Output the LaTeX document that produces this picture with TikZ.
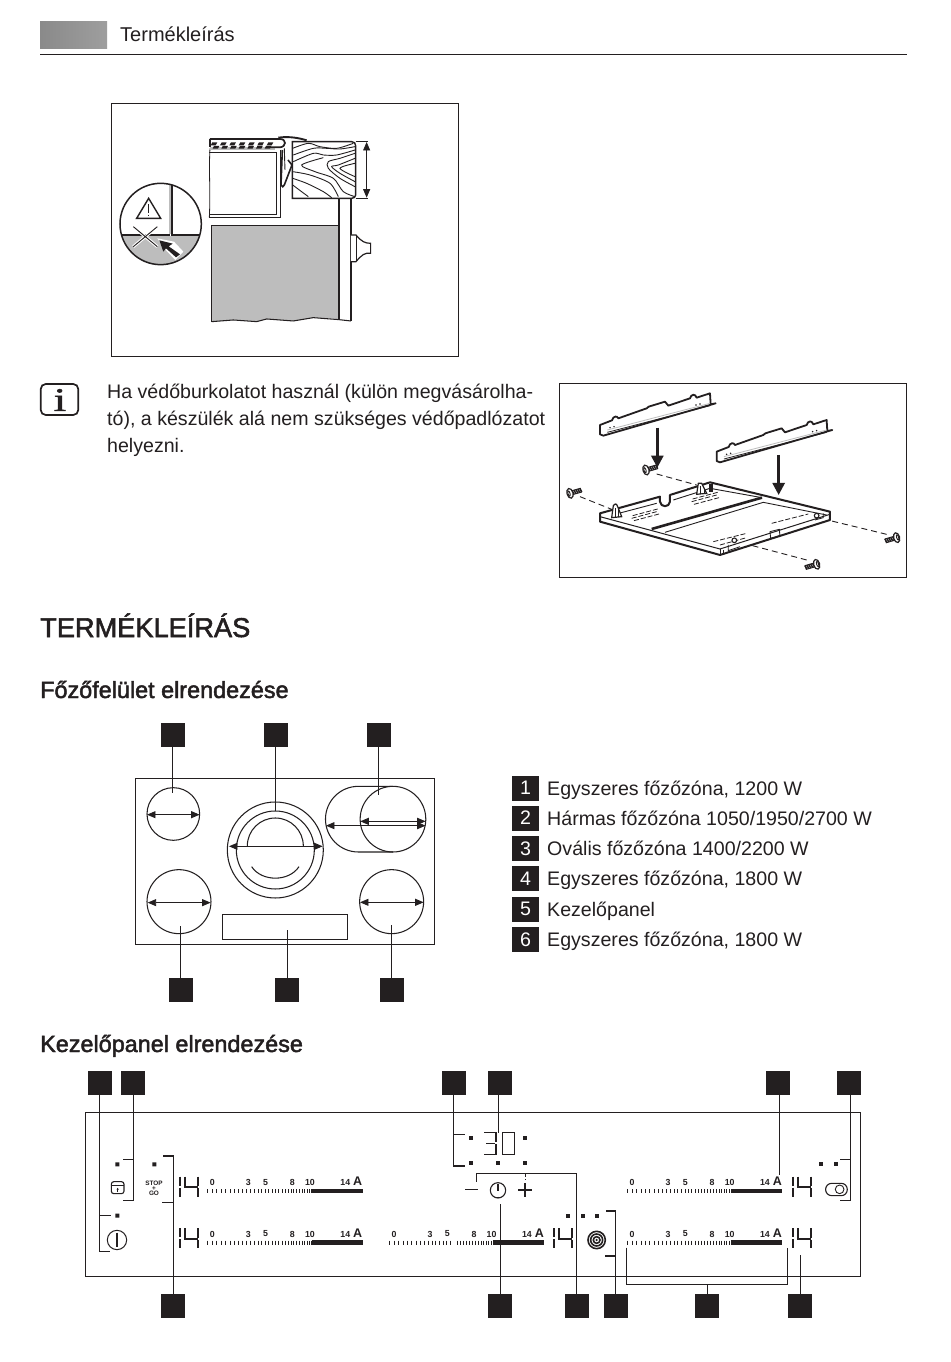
\documentclass[tikz,border=0pt]{standalone}
\usepackage{fontspec}
\setmainfont{Liberation Sans}
\newfontfamily\fakebold[FakeBold=2]{Liberation Sans}
\newfontfamily\fakeserif[FakeBold=1.5]{Liberation Serif}
\usetikzlibrary{arrows.meta,calc}
\definecolor{ink}{HTML}{231F20}
\definecolor{midgrey}{HTML}{BDBDBD}
\newcommand\fsz[1]{\fontsize{#1}{#1}\selectfont}
\tikzset{
  x=1pt,y=-1pt,
  zA/.style={shift={(100,95)},x=0.3333pt,y=-0.3333pt},
  zB/.style={shift={(550,375)},x=0.3333pt,y=-0.3333pt},
  zC/.style={shift={(80,1065)},x=0.3333pt,y=-0.3333pt},
  zD/.style={shift={(430,1065)},x=0.3333pt,y=-0.3333pt},
  zE/.style={shift={(125,720)},x=0.3333pt,y=-0.3333pt},
  ln/.style={draw=ink,line width=1.05pt},
  frameb/.style={draw=ink,line width=0.9pt},
  sq/.style={fill=ink,draw=none,minimum size=24pt,inner sep=0pt,outer sep=0pt},
  numsq/.style={fill=ink,text=white,minimum width=27pt,minimum height=25pt,inner sep=0pt,font=\fsz{19.6}},
  listtxt/.style={anchor=base west,inner sep=0pt,text=ink,font=\fsz{19.6}},
  para/.style={anchor=base west,inner sep=0pt,text=ink,font=\fsz{19.6}},
  lbl/.style={inner sep=0pt,text=ink,font=\fsz{8.8}\bfseries},
  segm/.style={draw=ink,line width=1.8pt},
  bigarr/.style={draw=ink,line width=0.9pt,{Triangle[length=8.5pt,width=7pt]}-{Triangle[length=8.5pt,width=7pt]}},
  dropa/.style={draw=ink,line width=2.6pt,-{Triangle[length=12pt,width=12pt]}},
  thk/.style={draw=ink,line width=1.8pt,line join=round},
}
\newcommand\ampbar[3]{%
  \foreach \i in {0,...,30}{\pgfmathsetmacro\tx{#2+312*(\i/30)*(1.35-0.35*\i/30)}\draw[ink,line width=0.8pt] (\tx,#3-6) -- (\tx,#3+6);}
  \fill[ink] (#2+312,#3-7) rectangle (#2+465,#3+7);
  \node[lbl] (z#1) at (#2+14,#3-26) {0};
  \node[lbl] (t#1) at (#2+122,#3-26) {3};
  \node[lbl] (f#1) at (#2+174,#3-26) {5};
  \node[lbl] (e#1) at (#2+254,#3-26) {8};
  \node[lbl] (n#1) at (#2+307,#3-26) {10};
  \node[lbl] (v#1) at (#2+413,#3-26) {14};
  \node[lbl,font=\fsz{12.5}\bfseries] (a#1) at (#2+450,#3-28) {A};
}
\newcommand\disponefour[2]{%
  \draw[segm] (#1,#2) -- (#1,#2+27) (#1,#2+33) -- (#1,#2+60);
  \draw[segm] (#1+14,#2) -- (#1+14,#2+31) -- (#1+53,#2+31);
  \draw[segm] (#1+53,#2) -- (#1+53,#2+28) (#1+53,#2+34) -- (#1+53,#2+60);
}
\newcommand\screwat[3]{%
  \begin{scope}[shift={(#1,#2)},rotate=#3]
    \draw[ink,line width=0.9pt,fill=white] (0,-6) rectangle (34,6);
    \foreach \k in {8,14,20,26,32}{\draw[ink,line width=1.5pt] (\k,-6) -- (\k+3,6);}
    \draw[ink,line width=1.2pt,fill=white] (0,0) ellipse [x radius=9,y radius=15];
    \draw[ink,line width=0.9pt] (-3,0) ellipse [x radius=3,y radius=8];
  \end{scope}}
\newcommand\brkt[2]{%
  \begin{scope}[shift={(#1,#2)}]
    \draw[thk,fill=white] (150,150) -- (186,136) .. controls (190,122) and (202,122) .. (205,130) -- (290,100) -- (296,95) -- (345,80) -- (355,92) -- (420,70) .. controls (424,56) and (436,56) .. (440,68) -- (480,55) -- (482,88) -- (497,85) -- (160,182) -- (150,178) -- cycle;
    \draw[ink,line width=0.8pt] (172,172) -- (480,92);
    \draw[midgrey,line width=0.8pt] (172,165) -- (480,85);
    \fill[ink] (180,158) circle (2.5) (192,155) circle (2.5) (438,90) circle (2.5) (450,87) circle (2.5);
  \end{scope}}
\newcommand\grid[5]{%
  \foreach \k in {0,...,#5}{\draw[ink,line width=0.8pt,dash pattern=on 5pt off 2pt] ($(#1,#2)+(\k*7,\k*6)$) -- ++(#3,#4);}}
\begin{document}
\begin{tikzpicture}
\useasboundingbox (0,0) rectangle (950,1362);
\fill[white] (0,0) rectangle (950,1362);
% header
\shade[left color=black!46,right color=black!38] (40,22) rectangle (107,49);
\draw[ink,line width=0.8pt] (40,54) -- (907,54);
\node[anchor=base west,inner sep=0pt,text=ink,font=\fsz{20}] (htitle) at (120,42) {Termékleírás};
% figure 1
\begin{scope}[zA]
  \draw[frameb] (35,25) rectangle (1076,785);
  % grey unit
  \fill[midgrey] (335,392) -- (717,392) -- (717,672) -- (640,668) -- (580,678) -- (500,672) -- (470,680) -- (400,675) -- (335,680) -- cycle;
  \draw[ln,line width=1.3pt] (335,680) -- (335,392) -- (717,392);
  \draw[ln] (335,680) -- (400,675) -- (470,680) -- (500,672) -- (580,678) -- (640,668) -- (717,674) -- (753,678);
  \draw[ln] (717,310) -- (717,674) (753,310) -- (753,678);
  % knob
  \draw[ln,line width=1.2pt,fill=white] (753,420) -- (768,420) .. controls (785,440) and (795,445) .. (812,445) -- (812,475) .. controls (795,472) and (785,480) .. (768,500) -- (753,500);
  \draw[ink,line width=0.8pt] (770,422) -- (770,498);
  % white unit
  \draw[ink,line width=0.9pt] (328,172) -- (530,172) -- (530,358) -- (328,358);
  \draw[ink,line width=0.8pt] (540,165) -- (540,367) -- (328,367);
  \draw[ink,line width=0.8pt] (330,160) .. controls (326,230) and (332,290) .. (328,367);
  % worktop
  \fill[midgrey] (330,157) rectangle (525,166);
  \draw[ink,line width=1.7pt] (330,132) -- (540,132) .. controls (560,132) and (560,155) .. (540,157) -- (510,157);
  \draw[ink,line width=2pt] (329,155) -- (329,133);
  \foreach \k in {0,...,6}{\fill[ink] (337+\k*28,142) -- (352+\k*28,142) -- (347+\k*28,151) -- (332+\k*28,151) -- cycle;}
  \foreach \k in {0,...,6}{\fill[ink] (342+\k*26,153) -- (358+\k*26,153) -- (354+\k*26,161) -- (338+\k*26,161) -- cycle;}
  \draw[ink,line width=1.9pt] (535,128) .. controls (570,123) and (600,130) .. (620,136);
  % clip
  \draw[ink,line width=1.6pt] (547,165) -- (543,270) .. controls (545,278) and (552,276) .. (553,270) -- (576,210) -- (564,195);
  \draw[ink,line width=0.9pt] (553,160) -- (555,225);
  % wood
  \draw[ink,line width=1.4pt] (577,140) -- (755,140) .. controls (763,140) and (767,145) .. (767,152) -- (767,300) .. controls (767,306) and (762,310) .. (755,310) -- (577,310) -- cycle;
  \draw[ink,line width=0.8pt] (767,139) -- (805,139) (767,310) -- (805,310);
  \begin{scope}[ink,line width=0.9pt]
    \draw plot[smooth] coordinates {(578,160) (625,145) (660,155) (710,160) (760,145)};
    \draw plot[smooth] coordinates {(580,180) (640,160) (680,160) (720,162) (765,155)};
    \draw plot[smooth] coordinates {(580,200) (640,175) (670,180) (710,180) (765,165)};
    \draw plot[smooth] coordinates {(765,175) (720,190) (685,200) (685,220) (720,250) (765,275)};
    \draw plot[smooth] coordinates {(765,190) (715,210) (695,215) (720,235) (765,260)};
    \draw plot[smooth] coordinates {(765,205) (720,220) (765,245)};
    \draw plot[smooth] coordinates {(670,188) (605,210) (645,230) (700,250) (730,290) (765,305)};
    \draw plot[smooth] coordinates {(578,230) (630,240) (690,265) (715,305)};
    \draw plot[smooth] coordinates {(578,250) (620,265) (670,290) (695,308)};
    \draw plot[smooth] coordinates {(578,270) (625,305)};
  \end{scope}
  \draw[bigarr] (800,141) -- (800,308);
  % detail circle
  \begin{scope}
    \clip (182,387) circle (122);
    \fill[midgrey] (50,422) rectangle (320,520);
    \draw[ink,line width=1.2pt] (50,420) -- (208,420) -- (208,260);
    \fill[midgrey] (208,260) rectangle (216,416);
    \draw[ink,line width=1.2pt] (216,260) -- (216,420) -- (320,420);
  \end{scope}
  \draw[ink,line width=1.5pt] (182,387) circle (122);
  \draw[ink,line width=1.4pt,line join=miter] (146,310) -- (110,370) -- (182,370) -- cycle;
  \draw[ink,line width=1.2pt] (146,328) -- (146,354) (146,359) -- (146,364);
  \draw[white,line width=3pt] (100,395) -- (172,455) (172,395) -- (100,455);
  \draw[ink,line width=0.9pt] (100,395) -- (172,455) (172,395) -- (100,455);
  \fill[white] (172,430) -- (222,440) -- (250,470) -- (226,495) -- (198,466) -- cycle;
  \fill[ink] (178,436) -- (218,446) -- (206,454) -- (240,478) -- (228,487) -- (198,460) -- (190,470) -- cycle;
\end{scope}
% info icon
\node[draw=ink,line width=1.7pt,rounded corners=5pt,minimum width=37.5pt,minimum height=31pt,inner sep=0pt] (info) at (59.5,399.5) {};
\node[inner sep=0pt,text=ink,font=\fakeserif\fsz{33}] (infoi) at (60,400) {\scalebox{1.35}[1]{i}};
\node[para] (p1) at (107,398) {Ha védőburkolatot használ (külön megvásárolha-};
\node[para] (p2) at (107,425) {tó), a készülék alá nem szükséges védőpadlózatot};
\node[para] (p3) at (107,452) {helyezni.};
% figure 2
\begin{scope}[zB]
  \draw[frameb] (28,25) rectangle (1070,606);
  \brkt{0}{0}
  \brkt{350}{80}
  \draw[dropa] (322,158) -- (322,278);
  \draw[dropa] (686,240) -- (686,360);
  \draw[ink,line width=0.9pt,dash pattern=on 6pt off 4pt] (90,365) -- (190,405) (320,297) -- (440,330) (1010,478) -- (845,438) (770,555) -- (600,510);
  \screwat{60}{355}{16}
  \screwat{288}{285}{16}
  \screwat{1040}{488}{196}
  \screwat{800}{568}{196}
  % tray
  \draw[thk,line width=2pt,fill=white] (150,415) -- (330,365) -- (330,380) .. controls (332,398) and (358,398) .. (360,380) -- (360,360) -- (480,322) -- (840,410) -- (840,435) -- (510,540) -- (150,440) -- cycle;
  \draw[ink,line width=1pt] (150,425) -- (510,522) -- (840,418);
  \draw[ink,line width=0.9pt] (510,522) -- (510,540) (520,525) -- (520,535);
  \draw[thk,line width=2.6pt] (305,462) -- (636,368);
  \draw[ink,line width=0.9pt] (345,472) -- (640,382) -- (830,420);
  \draw[ink,line width=0.9pt] (195,418) -- (320,385) (370,375) -- (480,340) -- (636,368);
  \fill[ink] (478,326) rectangle (488,350);
  \grid{245}{430}{75}{-20}{0}
  \grid{252}{437}{75}{-20}{0}
  \grid{248}{422}{75}{-20}{0}
  \grid{425}{380}{75}{-20}{0}
  \grid{432}{388}{75}{-20}{0}
  \grid{428}{372}{75}{-20}{0}
  \grid{490}{500}{100}{-25}{0}
  \grid{510}{510}{80}{-22}{0}
  \grid{665}{445}{110}{-28}{0}
  \draw[ink,line width=0.9pt] (660,470) -- (688,463) -- (690,483) -- (662,490) -- cycle;
  \draw[ink,line width=1.2pt,fill=white] (190,392) .. controls (195,385) and (200,385) .. (203,395) -- (215,425) -- (185,428) -- cycle;
  \draw[ink,line width=1.2pt,fill=white] (445,325) -- (455,325) -- (470,355) -- (440,358) -- cycle;
  \draw[ink,line width=0.9pt] (195,400) -- (195,425) (205,400) -- (205,425) (452,332) -- (452,356) (462,340) -- (462,356);
  \draw[ink,line width=1.1pt,fill=white] (800,422) circle (7);
  \draw[ink,line width=1.1pt,fill=white] (553,496) circle (7);
  \draw[ink,line width=0.8pt] (535,510) -- (535,527) -- (570,515) (795,435) -- (820,428) -- (820,415);
\end{scope}
% section headings
\node[anchor=base west,inner sep=0pt,text=ink,font=\fakebold\fsz{27.2}] (h1) at (40,637) {TERMÉKLEÍRÁS};
\node[anchor=base west,inner sep=0pt,text=ink,font=\fakebold\fsz{23.4}] (h2) at (40,698) {Főzőfelület elrendezése};
\node[anchor=base west,inner sep=0pt,text=ink,font=\fakebold\fsz{23.4}] (h3) at (40,1052) {Kezelőpanel elrendezése};
% hob
\begin{scope}[zE]
  \draw[ln] (31,175) rectangle (929,673);
  \node[draw=ink,line width=1pt,fill=white,minimum width=125pt,minimum height=25pt,inner sep=0pt] (hobpanel) at (480,620.5) {};
  \draw[ln] (145,282) circle (79);
  \draw[ln] (162,545) circle (96);
  \draw[ln] (800,545) circle (96);
  \draw[ln] (451,390) circle (144);
  \draw[ln] (451,390) circle (117);
  \draw[ln] (367,378) arc[start angle=180,end angle=360,radius=84];
  \draw[ln] (380,440) .. controls (410,486) and (492,486) .. (522,440);
  \draw[ln] (804,199) -- (700,199) arc[start angle=270,end angle=90,radius=98.5] -- (804,396);
  \draw[ln] (804,297.5) circle (98.5);
  \draw[bigarr] (66,284) -- (224,284);
  \draw[bigarr] (68,548) -- (257,548);
  \draw[bigarr] (705,547) -- (896,547);
  \draw[bigarr] (312,379) -- (593,379);
  \draw[bigarr] (706,304) -- (902,304);
  \draw[bigarr] (603,317) -- (902,317);
  \node[sq] (ha) at (145,45) {};
  \node[sq] (hb) at (453.5,45) {};
  \node[sq] (hc) at (761.5,45) {};
  \node[sq] (hd) at (167.5,811) {};
  \node[sq] (he) at (487.5,811) {};
  \node[sq] (hf) at (800,811) {};
  \coordinate (ca) at (142,220);
  \coordinate (cb) at (451,272);
  \coordinate (cc) at (760,225);
  \coordinate (cd) at (166,618);
  \coordinate (ce) at (487,630);
  \coordinate (cf) at (799,615);
  \draw[ln] (ha.south -| ca) -- (ca);
  \draw[ln] (hb.south -| cb) -- (cb);
  \draw[ln] (hc.south -| cc) -- (cc);
  \draw[ln] (hd.north -| cd) -- (cd);
  \draw[ln] (he.north -| ce) -- (ce);
  \draw[ln] (hf.north -| cf) -- (cf);
\end{scope}
% legend
\foreach \n/\yy/\tt in {1/788/{Egyszeres főzőzóna, 1200 W},2/818/{Hármas főzőzóna 1050/1950/2700 W},3/848.5/{Ovális főzőzóna 1400/2200 W},4/878.5/{Egyszeres főzőzóna, 1800 W},5/909/{Kezelőpanel},6/939.5/{Egyszeres főzőzóna, 1800 W}}{
  \node[numsq] (num\n) at (525.5,\yy) {\n};
  \node[listtxt] (item\n) at (547,\yy+7) {\tt};
}
% control panel
\draw[ln] (85.3,1112.3) rectangle (860.3,1276.3);
\begin{scope}[zC]
  \ampbar{A}{383}{378}
  \ampbar{B}{383}{533}
  \ampbar{C}{928}{533}
  \fill[white] (1120,525) rectangle (1123,541);
  \disponefour{300}{335}
  \disponefour{300}{490}
  \fill[ink] (106,292) rectangle (118,304) (217,292) rectangle (229,304) (106,446) rectangle (118,458);
  \draw[ink,line width=1.1pt,rounded corners=2.5pt] (94,350) rectangle (132,386);
  \draw[ink,line width=0.9pt] (94,361) -- (132,361);
  \draw[ink,line width=0.9pt,-{Latex[length=2pt,width=2.5pt]}] (113,381) -- (113,368);
  \node[lbl,font=\fsz{6.4}\bfseries] (stop) at (222,354) {STOP};
  \node[lbl,font=\fsz{6.4}\bfseries] (plus1) at (222,370) {+};
  \node[lbl,font=\fsz{6.4}\bfseries] (go) at (222,386) {GO};
  \draw[ink,line width=1pt] (111,525) circle (29);
  \draw[ink,line width=1.1pt] (111,503) -- (111,547);
  \node[sq] (p1s) at (59,55) {};
  \node[sq] (p2s) at (160,55) {};
  \node[sq] (p3s) at (280,724) {};
  \coordinate (pa1) at (90,560);
  \coordinate (pa2) at (92,452);
  \coordinate (pb1) at (130,406);
  \coordinate (pb2) at (128,283);
  \coordinate (pc1) at (248,273);
  \coordinate (pc2) at (246,412);
  \draw[ln] (p1s.south) |- (pa1);
  \draw[ln] (59,452) -- (pa2);
  \draw[ln] (p2s.south) |- (pb1);
  \draw[ln] (160,283) -- (pb2);
  \draw[ln] (p3s.north) |- (pc1);
  \draw[ln] (280,412) -- (pc2);
\end{scope}
\begin{scope}[zD]
  \ampbar{D}{592}{378}
  \ampbar{E}{592}{533}
  \disponefour{1089}{335}
  \disponefour{1089}{490}
  \disponefour{372}{490}
  % 30
  \draw[segm,line width=1.5pt] (162,203) -- (198,203) -- (198,232) (198,238) -- (198,268) -- (162,268) (168,235) -- (196,235);
  \draw[segm,line width=1.5pt] (218,203) -- (254,203) -- (254,268) -- (218,268) -- cycle;
  \foreach \px/\py in {124/218,285/218,124/295,204/295,285/295,414/452,458/452,501/452,1174/297,1217/297}{\fill[ink] (\px-6,\py-6) rectangle (\px+6,\py+6);}
  \draw[ink,line width=1.2pt] (105,373) -- (145,373);
  \draw[ink,line width=1.2pt] (265,375) -- (305,375) (285,355) -- (285,395);
  \draw[ink,line width=1.1pt] (204,376) circle (23);
  \draw[ink,line width=1.1pt] (204,358) -- (204,378) (204,395) -- (204,399);
  \foreach \r in {26,18,10}{\draw[ink,line width=1.6pt] (500,525) circle (\r);}
  \fill[ink] (500,525) circle (4);
  \draw[ink,line width=1.1pt,rounded corners=6pt] (1187,355) rectangle (1252,392);
  \draw[ink,line width=0.9pt] (1229,373) circle (13);
  \node[sq] (q1) at (71.5,55) {};
  \node[sq] (q2) at (209,55) {};
  \node[sq] (q3) at (1044.5,55) {};
  \node[sq] (q4) at (1256,55) {};
  \node[sq] (q5) at (210.5,724) {};
  \node[sq] (q6) at (440.5,724) {};
  \node[sq] (q7) at (557,724) {};
  \node[sq] (q8) at (831.5,724) {};
  \node[sq] (q9) at (1111.5,724) {};
  \coordinate (r1) at (105,303);
  \coordinate (r2) at (105,208);
  \coordinate (r3) at (205,205);
  \coordinate (r4) at (1048,330);
  \coordinate (r5) at (1230,406);
  \coordinate (r5b) at (1263,91);
  \coordinate (r6) at (1230,283);
  \coordinate (r7) at (211,418);
  \coordinate (r8) at (139,352);
  \coordinate (r9) at (527,438);
  \coordinate (r10) at (525,573);
  \coordinate (r11) at (832,658);
  \coordinate (r12) at (1113,570);
  \draw[ln] (q1.south) |- (r1);
  \draw[ln] (72,208) -- (r2);
  \draw[ln] (q2.south -| r3) -- (r3);
  \draw[ln] (q3.south -| r4) -- (r4);
  \draw[ln] (q4.south -| r5b) |- (r5);
  \draw[ln] (1263,283) -- (r6);
  \draw[ln] (q5.north -| r7) -- (r7);
  \draw[ln] (q6.north) |- (r8 |- 0,325) -- (r8);
  \draw[ink,line width=0.9pt,dash pattern=on 4pt off 1.5pt] (285,325) -- (285,342);
  \draw[ln] (q7.north) |- (r9);
  \draw[ln] (557,573) -- (r10);
  \draw[ln] (q8.north -| r11) -- (r11);
  \draw[ln] (589,548) |- (r11) -| (1073,548);
  \draw[ln] (q9.north -| r12) -- (r12);
\end{scope}
\end{tikzpicture}
\end{document}
